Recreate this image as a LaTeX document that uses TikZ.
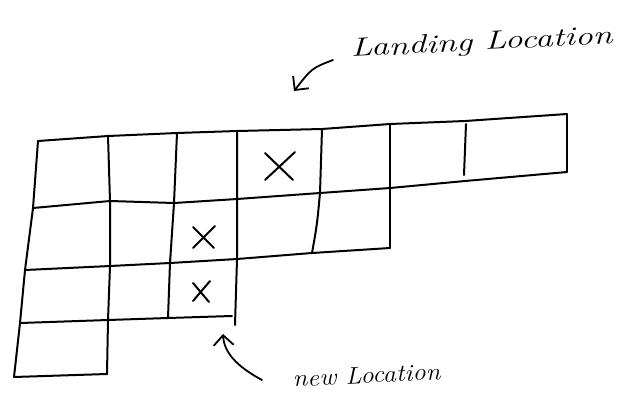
\documentclass[tikz,border=0pt]{standalone}
\usetikzlibrary{arrows.meta,calc}
\begin{document}
\begin{tikzpicture}[x=1pt,y=-1pt,
  grid/.style={line width=2pt, line join=round, line cap=round},
  cross/.style={line width=2pt, line cap=round},
  pointer/.style={line width=1.8pt, line cap=round, -{Straight Barb[length=10pt,width=20pt,line width=1.8pt]}},
  hand/.style={font=\itshape\fontsize{26}{26}\selectfont, inner sep=0pt}]
\useasboundingbox (0,0) rectangle (625,392);
% grid corner coordinates: a = top line, b..e = lower lines
\coordinate (a0) at (38,141);  \coordinate (a1) at (108,136); \coordinate (a2) at (177,133);
\coordinate (a3) at (237,131); \coordinate (a4) at (322,129); \coordinate (a5) at (390,124);
\coordinate (a6) at (465,121); \coordinate (a7) at (567,114);
\coordinate (b0) at (33,208);  \coordinate (b1) at (110,201); \coordinate (b2) at (174,203);
\coordinate (b3) at (237,199); \coordinate (b4) at (320,193); \coordinate (b5) at (390,188);
\coordinate (b6) at (465,181); \coordinate (b7) at (567,172);
\coordinate (c0) at (25,270);  \coordinate (c1) at (110,266); \coordinate (c2) at (170,263);
\coordinate (c3) at (237,259); \coordinate (c4) at (312,253); \coordinate (c5) at (390,248);
\coordinate (d0) at (20,323);  \coordinate (d1) at (108,320); \coordinate (d2) at (168,318);
\coordinate (d3) at (232,316); \coordinate (d3e) at (235,325);
\coordinate (e0) at (14,377);  \coordinate (e1) at (107,374);
\coordinate (p6a) at (466,124); \coordinate (p6b) at (464,175);
% horizontal lines
\draw[grid] (a0) -- (a1) -- (a2) -- (a3) -- (a4) -- (a5) -- (a6) -- (a7);
\draw[grid] (b0) -- (b1) -- (b2) -- (b3) -- (b4) -- (b5) -- (b6) -- (b7);
\draw[grid] (c0) -- (c1) -- (c2) -- (c3) -- (c4) -- (c5);
\draw[grid] (d0) -- (d1) -- (d2) -- (d3);
\draw[grid] (e0) -- (e1);
% vertical lines
\draw[grid] (a0) -- (b0) -- (c0) -- (d0) -- (e0);
\draw[grid] (a1) -- (b1) -- (c1) -- (d1) -- (e1);
\draw[grid] (a2) -- (b2) -- (c2) -- (d2);
\draw[grid] (a3) -- (b3) -- (c3) -- (d3e);
\draw[grid] (a4) -- (b4) .. controls (317,225) .. (c4);
\draw[grid] (a5) -- (b5) -- (c5);
\draw[grid] (p6a) -- (p6b);
\draw[grid] (a7) -- (b7);
% crosses
\coordinate (x1) at (279,167); \coordinate (x2) at (203,238); \coordinate (x3) at (201,292);
\draw[cross] ($(x1)+(-14,-14)$) -- ($(x1)+(14,13)$) ($(x1)+(-14,13)$) -- ($(x1)+(16,-15)$);
\draw[cross] ($(x2)+(-10,-11)$) -- ($(x2)+(11,10)$) ($(x2)+(-10,10)$) -- ($(x2)+(12,-12)$);
\draw[cross] ($(x3)+(-8,-9)$) -- ($(x3)+(8,10)$) ($(x3)+(-8,9)$) -- ($(x3)+(9,-11)$);
% labels
\node[hand, rotate=3, anchor=base west] (land) at (351,57) {\scalebox{1.37}[1]{Landing Location}};
\node[hand, rotate=3, anchor=base west, font=\itshape\fontsize{24}{24}\selectfont] (newl) at (293,387) {\scalebox{1.1}[1]{new Location}};
\coordinate (landtail) at (333,60); \coordinate (landtip) at (294,91);
\coordinate (newtail) at (262,380); \coordinate (newtip) at (223,334);
\draw[pointer] (landtail) .. controls (312,68) .. (landtip);
\draw[pointer] (newtail) .. controls (236,366) and (224,352) .. (newtip);
\end{tikzpicture}
\end{document}
